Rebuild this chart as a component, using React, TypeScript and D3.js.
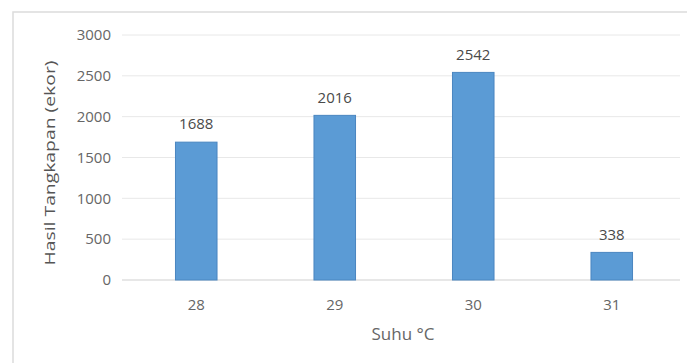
import React from "react";
import * as d3 from "d3";

const categories = ["28", "29", "30", "31"];
const values = [1688, 2016, 2542, 338];
const yTicks = [0, 500, 1000, 1500, 2000, 2500, 3000];
const yTitle = "Hasil Tangkapan (ekor)";
const xTitle = "Suhu °C";

export default function App() {
  const W = 687, H = 363;
  const left = 127, right = 681, top = 35, bottom = 280;
  const x = d3.scaleBand().domain(categories).range([left, right]).paddingInner(0.7).paddingOuter(0.35);
  const y = d3.scaleLinear().domain([0, 3000]).range([bottom, top]);
  const font = "'Open Sans', 'Noto Sans', sans-serif";
  const gray = "#666666";
  return (
    <svg width={W} height={H} style={{ position: "absolute", left: 0, top: 0 }} fontFamily={font}>
      <rect x={0} y={0} width={W} height={H} fill="#fff" />
      <rect x={13} y={12} width={W + 20} height={H + 20} fill="none" stroke="#dcdcdc" strokeWidth={1.5} />
      {yTicks.map((t) => (
        <g key={t}>
          <line x1={122} x2={680} y1={y(t)} y2={y(t)} stroke={t === 0 ? "#cfcfcf" : "#e8e8e8"} strokeWidth={1} />
          <text x={111} y={y(t)} dy="0.35em" textAnchor="end" fontSize={15} fill={gray}>{t}</text>
        </g>
      ))}
      {categories.map((c, i) => (
        <g key={c}>
          <rect x={x(c)} y={y(values[i])} width={x.bandwidth()} height={bottom - y(values[i])} fill="#5b9bd5" stroke="#4a86c0" strokeWidth={1} />
          <text x={(x(c) as number) + x.bandwidth() / 2} y={y(values[i]) - 18} dy="0.35em" textAnchor="middle" fontSize={15} fill="#4a4a4a">{values[i]}</text>
          <text x={(x(c) as number) + x.bandwidth() / 2} y={305} dy="0.35em" textAnchor="middle" fontSize={15} fill={gray}>{c}</text>
        </g>
      ))}
      <text x={403} y={334} dy="0.35em" textAnchor="middle" fontSize={16} fill={gray} textLength={63} lengthAdjust="spacingAndGlyphs">{xTitle}</text>
      <text transform={`translate(50,163) rotate(-90)`} textAnchor="middle" dy="0.35em" fontSize={15} fill="#555" textLength={205} lengthAdjust="spacingAndGlyphs">{yTitle}</text>
    </svg>
  );
}
